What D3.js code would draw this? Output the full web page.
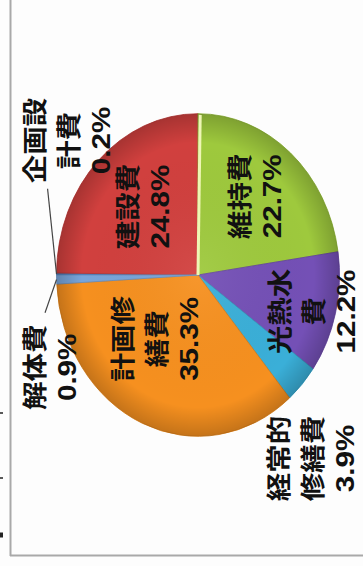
<!DOCTYPE html>
<html>
<head>
<meta charset="utf-8">
<script src="https://cdn.jsdelivr.net/npm/d3@7"></script>
<style>
  body { margin: 0; background: #fff; }
  svg { display: block; }
</style>
</head>
<body>
<div id="chart"></div>
<script>
// life-cycle cost breakdown (share of total, %)
const categories = ["企画設計費", "建設費", "維持費", "光熱水費", "経常的修繕費", "計画修繕費", "解体費"];
const shares = [0.2, 24.8, 22.7, 12.2, 3.9, 35.3, 0.9];
const labelLines = [["企画設", "計費"], ["建設費"], ["維持費"], ["光熱水", "費"], ["経常的", "修繕費"], ["計画修", "繕費"], ["解体費"]];

const W = 363, H = 566;
// the scanned chart sits on its side, slightly stretched
const cx = 198, cy = 275, r = 141.5, stretch = 1.14;

const svg = d3.select("#chart").append("svg")
    .attr("width", W)
    .attr("height", H);

svg.append("rect").attr("width", W).attr("height", H).attr("fill", "#fdfdfd");

// page frame
svg.append("line").attr("x1", 10.5).attr("x2", 10.5).attr("y1", 0).attr("y2", 556)
    .attr("stroke", "#a9a9a9").attr("stroke-width", 2);
svg.append("line").attr("x1", 10).attr("x2", W).attr("y1", 555.5).attr("y2", 555.5)
    .attr("stroke", "#a9a9a9").attr("stroke-width", 2);
[413, 478, 535].forEach((y, i) => {
    svg.append("line").attr("x1", 0).attr("x2", 3).attr("y1", y).attr("y2", y)
        .attr("stroke", "#222").attr("stroke-width", i === 2 ? 5 : 1.5);
});

const color = d3.scaleOrdinal()
    .domain(categories)
    .range(["#4a7ec0", "#d1403e", "#9ec93d", "#7450b6", "#3aafd8", "#f6901f", "#78a5da"]);

const pie = d3.pie().sort(null).value(d => d.value);
const arcs = pie(categories.map((c, i) => ({ name: c, value: shares[i], lines: labelLines[i] })));
const arc = d3.arc().innerRadius(0).outerRadius(r);

const g = svg.append("g")
    .attr("transform", `translate(${cx},${cy}) scale(1,${stretch}) rotate(-90)`);

// soft rim shading like the original 3D-ish pie
const defs = svg.append("defs");
const grad = defs.append("radialGradient").attr("id", "rim");
grad.append("stop").attr("offset", "0%").attr("stop-color", "#fff").attr("stop-opacity", 0.06);
grad.append("stop").attr("offset", "82%").attr("stop-color", "#000").attr("stop-opacity", 0);
grad.append("stop").attr("offset", "100%").attr("stop-color", "#000").attr("stop-opacity", 0.2);

g.selectAll("path.slice")
    .data(arcs)
    .enter()
    .append("path")
    .attr("class", "slice")
    .attr("d", arc)
    .attr("fill", d => color(d.data.name))
    .attr("stroke", d => d3.color(color(d.data.name)).darker(0.4))
    .attr("stroke-width", 0.8);

g.append("circle").attr("r", r).attr("fill", "url(#rim)");

// pale highlight on the edge of 維持費
const polar = (deg, rad) => {
    const a = deg * Math.PI / 180;
    return [Math.sin(a) * rad, -Math.cos(a) * rad];
};
const hl = arcs[2].startAngle * 180 / Math.PI + 0.9;
g.append("line")
    .attr("x1", 0).attr("y1", 0)
    .attr("x2", polar(hl, r - 1)[0]).attr("y2", polar(hl, r - 1)[1])
    .attr("stroke", "#eef6b4").attr("stroke-width", 3);

// label anchors: [angle in degrees clockwise from top, distance as fraction of radius]
const placement = {
    "企画設計費": [42, 1.246],
    "建設費": [47.5, 0.575],
    "維持費": [129.6, 0.633],
    "光熱水費": [195.7, 0.837],
    "経常的修繕費": [234.9, 1.39],
    "計画修繕費": [307.5, 0.499],
    "解体費": [331.3, 1.192]
};
const leaders = {
    "企画設計費": [26.7, 1.19],
    "解体費": [347.8, 1.106]
};

const midDeg = d => (d.startAngle + d.endAngle) / 2 * 180 / Math.PI;

g.selectAll("polyline.leader")
    .data(arcs.filter(d => leaders[d.data.name]))
    .enter()
    .append("polyline")
    .attr("class", "leader")
    .attr("points", d => {
        const p0 = polar(midDeg(d), r);
        const p1 = leaders[d.data.name];
        return [p0, polar(p1[0], p1[1] * r)].map(p => p.join(",")).join(" ");
    })
    .attr("fill", "none")
    .attr("stroke", "#444")
    .attr("stroke-width", 1.2);

const fmt = d3.format(".1f");
const lineGap = 34;

const labels = g.selectAll("g.label")
    .data(arcs)
    .enter()
    .append("g")
    .attr("class", "label")
    .attr("transform", d => {
        const p = placement[d.data.name];
        const pt = polar(p[0], p[1] * r);
        return `translate(${pt[0]},${pt[1]})`;
    });

labels.each(function (d) {
    const lines = d.data.lines.concat([fmt(d.data.value) + "%"]);
    const n = lines.length;
    d3.select(this).selectAll("text")
        .data(lines)
        .enter()
        .append("text")
        .attr("x", 0)
        .attr("y", (t, j) => (j - (n - 1) / 2) * lineGap)
        .attr("text-anchor", "middle")
        .attr("dominant-baseline", "central")
        .attr("fill", "#111")
        .attr("font-weight", "bold")
        .attr("font-family", (t, j) => j === n - 1
            ? "'Liberation Sans Narrow', 'Liberation Sans', sans-serif"
            : "'Noto Sans CJK JP', sans-serif")
        .attr("font-size", (t, j) => j === n - 1 ? 26 : 25)
        .text(t => t);
});
</script>
</body>
</html>
